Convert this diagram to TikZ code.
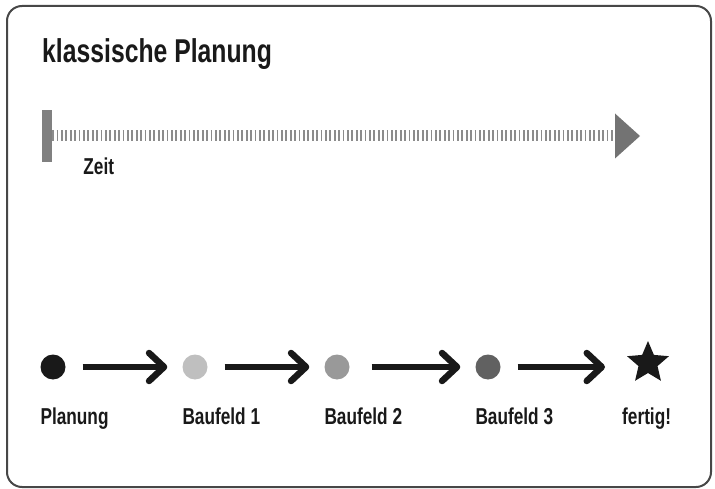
\documentclass[tikz,border=0pt]{standalone}
\usepackage{fontspec}
\newfontfamily\condbold{Liberation Sans Bold}[FakeStretch=0.75]
\usetikzlibrary{shapes.geometric, arrows.meta, positioning}
\tikzstyle{arrow} = [line width=6.5pt, draw=black!90, shorten <=17pt, shorten >=15pt, -{Straight Barb[length=15pt,width=28pt,round]}]
\tikzstyle{phase} = [circle, minimum size=25pt, inner sep=0pt]
\tikzstyle{phasetext} = [inner sep=0pt, anchor=base west, text=black!90, font=\condbold\fontsize{23}{27}\selectfont]
\tikzstyle{timeline} = [line width=11pt, draw=black!45, dash pattern=on 1.8pt off 2.6pt, -{Triangle[length=25pt,width=45pt,line width=0pt,color=black!55]}]

\begin{document}
\begin{tikzpicture}[x=1pt, y=-1pt, node distance=142pt]
\useasboundingbox (0,0) rectangle (715,489);
% Frame
\draw [rounded corners=15pt, line width=2pt, draw=black!72] (7,6) rectangle (711,487);

% Title and time axis
\node (title) [phasetext, font=\condbold\fontsize{33}{38}\selectfont] at (42,63) {klassische Planung};
\node (bar) [rectangle, fill=black!50, minimum width=10pt, minimum height=52pt, inner sep=0pt] at (47,136) {};
\coordinate (timeEnd) at (640,136);
\draw [timeline] (bar.east) -- (timeEnd);
\node (zeit) [phasetext] at ([xshift=31pt, yshift=-12pt]bar.south east) {Zeit};

% Placement of phases
\node (planung) [phase, fill=black!90] at (53,367) {};
\node (baufeldA) [phase, fill=black!25, right of=planung] {};
\node (baufeldB) [phase, fill=black!40, right of=baufeldA] {};
\node (baufeldC) [phase, fill=black!62, right of=baufeldB, xshift=9pt] {};
\node (fertig) [star, star points=5, star point ratio=2.2, minimum size=44pt, inner sep=0pt, fill=black!90, right of=baufeldC, xshift=18pt, yshift=4pt] {};

% Phase labels
\node (planungText) [phasetext] at ([yshift=-57pt]planung.west) {Planung};
\node (baufeldAText) [phasetext] at ([yshift=-57pt]baufeldA.west) {Baufeld 1};
\node (baufeldBText) [phasetext] at ([yshift=-57pt]baufeldB.west) {Baufeld 2};
\node (baufeldCText) [phasetext] at ([yshift=-57pt]baufeldC.west) {Baufeld 3};
\node (fertigText) [phasetext] at ([xshift=-26pt, yshift=-61pt]fertig.center) {fertig!};

% Placement of edges
\draw [arrow] (planung) -- (baufeldA);
\draw [arrow] (baufeldA) -- (baufeldB);
\draw [arrow, shorten <=22pt] (baufeldB) -- (baufeldC);
\draw [arrow, shorten >=43pt] (baufeldC) -- (baufeldC -| fertig);

\end{tikzpicture}
\end{document}
